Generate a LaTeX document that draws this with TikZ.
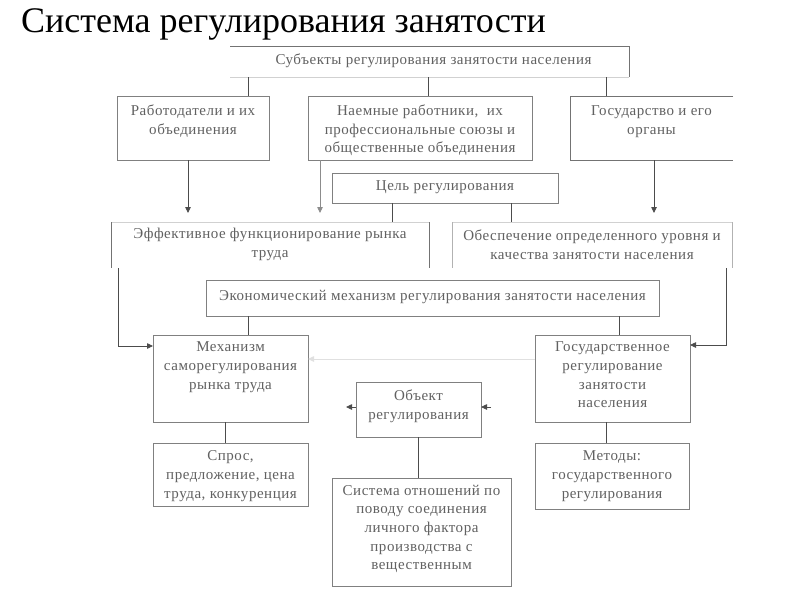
\documentclass[tikz,border=0pt]{standalone}
\usepackage{fontspec}
\setmainfont{Liberation Serif}
\newfontfamily\boxfont[LetterSpace=3.5]{Liberation Serif}
\usetikzlibrary{arrows.meta,calc}
\begin{document}
\begin{tikzpicture}[x=1pt,y=-1pt,
  box/.style={draw=black!50, line width=0.8pt, inner sep=0pt, outer sep=0pt, anchor=north west},
  nobox/.style={inner sep=0pt, outer sep=0pt, anchor=north west},
  txt/.style={inner sep=0pt, outer sep=0pt, anchor=north, align=center, text=black!62,
    font=\boxfont\fontsize{15}{18.6}\selectfont},
  conn/.style={draw=black!70, line width=0.8pt},
  arr/.style={conn, -{Triangle[length=6pt,width=5.5pt]}},
  faint/.style={draw=black!55, line width=0.8pt},
  pale/.style={draw=black!18, line width=0.8pt}]
\fill[white] (0,0) rectangle (800,600);
\useasboundingbox (0,0) rectangle (800,600);

% title
\node[inner sep=0pt, anchor=base west, font=\fontsize{36}{40}\selectfont] (title) at (21,32) {Система регулирования занятости};

% boxes
\node[nobox, minimum width=399pt, minimum height=31pt] (subj) at (230,46) {};
\draw[faint] (subj.north west) -- (subj.north east) -- (subj.south east);
\draw[pale] (subj.south east) -- (subj.south west);

\node[box, minimum width=152pt, minimum height=64pt] (rab) at (117,96) {};
\node[box, minimum width=224pt, minimum height=64pt] (naem) at (308,96) {};
\node[nobox, minimum width=163pt, minimum height=64pt] (gos) at (570,96) {};
\draw[faint] (gos.north east) -- (gos.north west) -- (gos.south west) -- (gos.south east);

\node[box, minimum width=226pt, minimum height=30pt] (cel) at (332,173) {};

\node[nobox, minimum width=318pt, minimum height=46pt] (eff) at (111,222) {};
\draw[pale] (eff.north west) -- (eff.north east);
\draw[faint] (eff.north west) -- (eff.south west);
\draw[faint] (eff.north east) -- (eff.south east);
\node[nobox, minimum width=280pt, minimum height=46pt] (obesp) at (452,222) {};
\draw[pale] (obesp.north west) -- (obesp.north east);
\draw[draw=black!30, line width=0.8pt] (obesp.north west) -- (obesp.south west);
\draw[draw=black!30, line width=0.8pt] (obesp.north east) -- (obesp.south east);

\node[box, minimum width=453pt, minimum height=36pt] (ekon) at (206,280) {};
\node[box, minimum width=155pt, minimum height=87pt] (mech) at (153,335) {};
\node[box, minimum width=155pt, minimum height=87pt] (gosreg) at (535,335) {};
\node[box, minimum width=125pt, minimum height=55pt] (obj) at (356,382) {};
\node[box, minimum width=155pt, minimum height=63pt] (spros) at (153,443) {};
\node[box, minimum width=179pt, minimum height=108pt] (sys) at (332,478) {};
\node[box, minimum width=154pt, minimum height=66pt] (met) at (535,443) {};

% texts
\node[txt, anchor=center] (subjT) at ($(subj.center)+(4,-1)$) {Субъекты регулирования занятости населения};
\node[txt] (rabT) at ($(rab.north)+(0,9)$) {Работодатели и их\\объединения};
\node[txt] (naemT) at ($(naem.north)+(0,9)$) {Наемные работники, \ их\\профессиональные союзы и\\общественные объединения};
\node[txt] (gosT) at ($(gos.north)+(0,10)$) {Государство и его\\органы};
\node[txt, anchor=center] (celT) at ($(cel.center)+(0,-1)$) {Цель регулирования};
\node[txt] (effT) at ($(eff.north)+(0,6)$) {Эффективное функционирование рынка\\труда};
\node[txt] (obespT) at ($(obesp.north)+(0,8)$) {Обеспечение определенного уровня и\\качества занятости населения};
\node[txt, anchor=center] (ekonT) at ($(ekon.center)+(0,-1)$) {Экономический механизм регулирования занятости населения};
\node[txt] (mechT) at ($(mech.north)+(0,7)$) {Механизм\\саморегулирования\\рынка труда};
\node[txt] (gosregT) at ($(gosreg.north)+(0,7)$) {Государственное\\регулирование\\занятости\\населения};
\node[txt] (objT) at ($(obj.north)+(0,8)$) {Объект\\регулирования};
\node[txt] (sprosT) at ($(spros.north)+(0,8)$) {Спрос,\\предложение, цена\\труда, конкуренция};
\node[txt] (sysT) at ($(sys.north)+(0,7)$) {Система отношений по\\поводу соединения\\личного фактора\\производства с\\вещественным};
\node[txt] (metT) at ($(met.north)+(0,8)$) {Методы:\\государственного\\регулирования};

% connector x positions
\coordinate (x1) at (248,0);
\coordinate (x2) at (428,0);
\coordinate (x3) at (606,0);
\coordinate (a1) at (188,213);
\coordinate (a2) at (320,213);
\coordinate (a3) at (654,213);
\coordinate (c1) at (392,0);
\coordinate (c2) at (511,0);
\coordinate (l1) at (118,346);
\coordinate (r1) at (726,345);
\coordinate (e1) at (248,0);
\coordinate (e2) at (619,0);
\coordinate (m1) at (225,0);
\coordinate (g1) at (606,0);
\coordinate (h1) at (0,359);
\coordinate (o1) at (0,407);
\coordinate (oL) at (346,407);
\coordinate (oR) at (491,407);

\draw[conn] (subj.south -| x1) -- (rab.north -| x1);
\draw[conn] (subj.south -| x2) -- (naem.north -| x2);
\draw[conn] (subj.south -| x3) -- (gos.north -| x3);

\draw[arr] (rab.south -| a1) -- (a1);
\draw[arr, draw=black!45] (naem.south -| a2) -- (a2);
\draw[arr] (gos.south -| a3) -- (a3);

\draw[conn] (cel.south -| c1) -- (eff.north -| c1);
\draw[conn] (cel.south -| c2) -- (obesp.north -| c2);

\draw[arr] (eff.south -| l1) -- (l1) -- (mech.west |- l1);
\draw[arr] (obesp.south -| r1) -- (r1) -- (gosreg.east |- r1);

\draw[conn] (ekon.south -| e1) -- (mech.north -| e1);
\draw[conn] (ekon.south -| e2) -- (gosreg.north -| e2);

\draw[arr, draw=black!12] (gosreg.west |- h1) -- (mech.east |- h1);
\draw[arr] (obj.west |- o1) -- (oL);
\draw[arr] (oR) -- (obj.east |- o1);

\draw[conn] (mech.south -| m1) -- (spros.north -| m1);
\draw[conn] (obj.south) -- (sys.north -| obj.south);
\draw[conn] (gosreg.south -| g1) -- (met.north -| g1);
\end{tikzpicture}
\end{document}
